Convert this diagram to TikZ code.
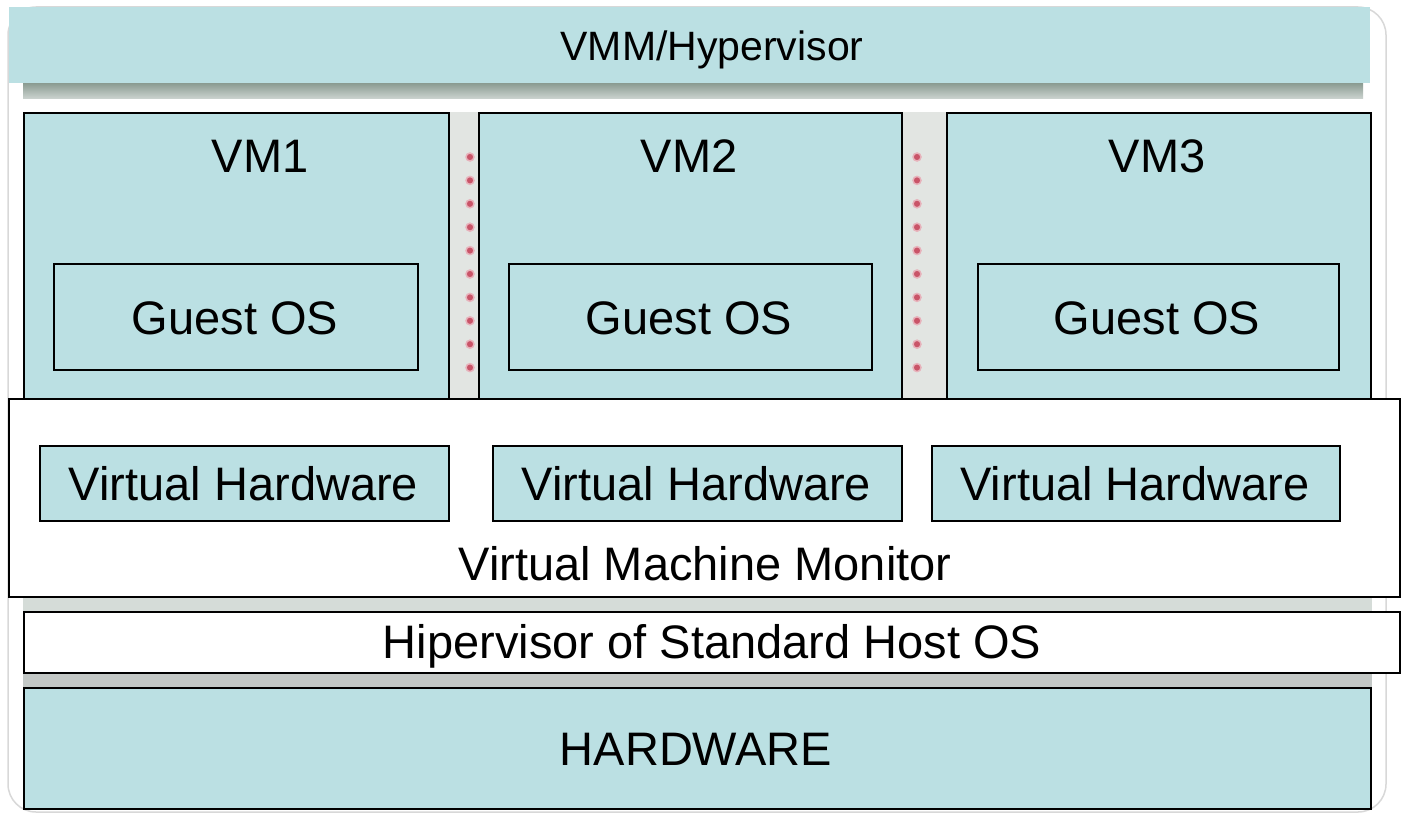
\documentclass[tikz,border=0pt]{standalone}
\usepackage{fontspec}
\setmainfont{Liberation Sans}
\definecolor{vblue}{HTML}{BBE0E3}
\definecolor{sepgray}{HTML}{E2E5E2}
\definecolor{dotred}{HTML}{C95468}
\definecolor{framegray}{HTML}{D8D8D8}
\definecolor{stripA}{HTML}{D5DCD8}
\definecolor{stripB}{HTML}{C3C8C6}
\definecolor{shadowtop}{HTML}{8A9B91}
\definecolor{shadowbot}{HTML}{C9D1CD}
\begin{document}
\begin{tikzpicture}[x=1pt,y=-1pt,
  box/.style={draw=black,line width=2pt,fill=vblue,inner sep=0pt,anchor=north west},
  wbox/.style={draw=black,line width=2pt,fill=white,inner sep=0pt,anchor=north west},
  gbox/.style={draw=black,line width=1.6pt,fill=vblue,inner sep=0pt,anchor=north west},
  lbl/.style={font=\fontsize{47}{56}\selectfont,anchor=base,inner sep=0pt},
  dotmark/.style={circle,fill=dotred,draw=dotred!45,line width=1.5pt,inner sep=0pt,minimum size=8pt}]
\useasboundingbox (0,0) rectangle (1402,816);
% outer frame
\draw[framegray,line width=1.5pt,fill=white,rounded corners=28pt] (8,7) rectangle (1386,812);
% top bar shadow
\shade[top color=shadowtop,bottom color=shadowbot] (23,83) rectangle (1363,98);
% top bar
\node[fill=vblue,inner sep=0pt,anchor=north west,minimum width=1361pt,minimum height=76pt] (vmmbar) at (9,7) {};
\node[lbl,font=\fontsize{41}{49}\selectfont] (vmmbart) at (712,60) {VMM/Hypervisor};
% separators between VMs
\node[fill=sepgray,inner sep=0pt,anchor=north west,minimum width=30pt,minimum height=286pt] (sep1) at (448,112) {};
\node[fill=sepgray,inner sep=0pt,anchor=north west,minimum width=45pt,minimum height=286pt] (sep2) at (901,112) {};
\foreach \i in {0,...,9}{
  \node[dotmark] (da\i) at (470,157+23.4*\i) {};
  \node[dotmark] (db\i) at (917,157+23.4*\i) {};
}
% VMs
\node[box,minimum width=425pt,minimum height=286pt] (vm1) at (23,112) {};
\node[box,minimum width=423pt,minimum height=286pt] (vm2) at (478,112) {};
\node[box,minimum width=424pt,minimum height=286pt] (vm3) at (946,112) {};
\node[lbl] (vm1t) at (260,172) {VM1};
\node[lbl] (vm2t) at (689,172) {VM2};
\node[lbl] (vm3t) at (1157,172) {VM3};
% Guest OS
\node[gbox,minimum width=364pt,minimum height=106pt] (g1) at (53,263) {};
\node[gbox,minimum width=363pt,minimum height=106pt] (g2) at (508,263) {};
\node[gbox,minimum width=361pt,minimum height=106pt] (g3) at (977,263) {};
\node[lbl] (g1t) at (235,334) {Guest OS};
\node[lbl] (g2t) at (689,334) {Guest OS};
\node[lbl] (g3t) at (1157,334) {Guest OS};
% gray strips
\fill[stripA] (23,597) rectangle (1372,611);
\fill[stripB] (23,672) rectangle (1372,687);
% VMM box
\node[wbox,minimum width=1391pt,minimum height=198pt] (vmm) at (8,398) {};
\node[box,minimum width=409pt,minimum height=75pt] (vh1) at (39,445) {};
\node[box,minimum width=409pt,minimum height=75pt] (vh2) at (492,445) {};
\node[box,minimum width=408pt,minimum height=75pt] (vh3) at (931,445) {};
\node[lbl] (vh1t) at (243.5,500) {Virtual Hardware};
\node[lbl] (vh2t) at (696.5,500) {Virtual Hardware};
\node[lbl] (vh3t) at (1135,500) {Virtual Hardware};
\node[lbl] (vmmt) at (705,580) {Virtual Machine Monitor};
% Hipervisor
\node[wbox,minimum width=1376pt,minimum height=61pt] (hip) at (23,611) {};
\node[lbl] (hipt) at (712,658) {Hipervisor of Standard Host OS};
% Hardware
\node[box,minimum width=1347pt,minimum height=121pt] (hw) at (23,687) {};
\node[lbl] (hwt) at (696,765) {HARDWARE};
\end{tikzpicture}
\end{document}
